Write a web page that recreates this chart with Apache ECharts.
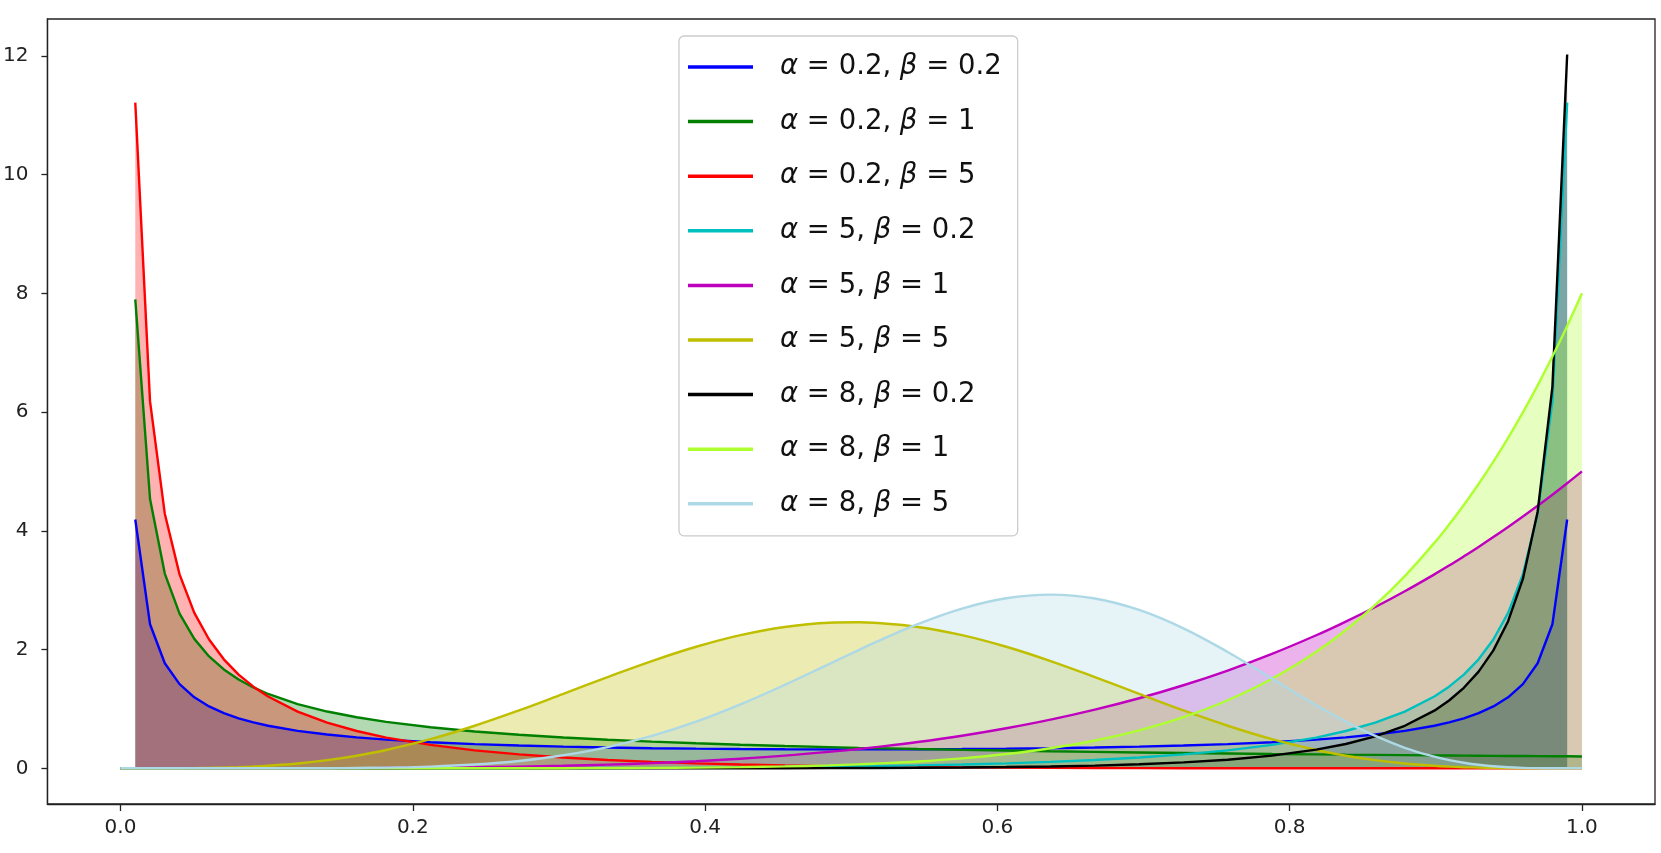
<!DOCTYPE html>
<html>
<head>
<meta charset="utf-8">
<script src="https://cdn.jsdelivr.net/npm/echarts@6/dist/echarts.min.js"></script>
<style>
  html, body { margin: 0; padding: 0; background: #fff; }
  #main { width: 1661px; height: 853px; }
</style>
</head>
<body>
<div id="main"></div>
<script>
  // sample positions along x (shared by all curves)
  var xs = [0, 0.0101, 0.0202, 0.0303, 0.0404, 0.0505, 0.0606, 0.0707, 0.0808, 0.0909,
    0.1010, 0.1212, 0.1414, 0.1616, 0.1818, 0.2121, 0.2424, 0.2727, 0.3030, 0.3333,
    0.3636, 0.3939, 0.4242, 0.4545, 0.4848, 0.5051, 0.5152, 0.5455, 0.5758, 0.6061, 0.6364,
    0.6667, 0.6970, 0.7273, 0.7576, 0.7879, 0.8182, 0.8384, 0.8586, 0.8788, 0.8990,
    0.9091, 0.9192, 0.9293, 0.9394, 0.9495, 0.9596, 0.9697, 0.9798, 0.9899, 1];

  var yA02B02 = [null, 4.190, 2.426, 1.769, 1.417, 1.196, 1.042, 0.929, 0.842, 0.773,
    0.717, 0.631, 0.569, 0.521, 0.483, 0.440, 0.408, 0.384, 0.365, 0.351,
    0.339, 0.331, 0.325, 0.321, 0.319, 0.319, 0.319, 0.321, 0.325, 0.331, 0.339,
    0.351, 0.365, 0.384, 0.408, 0.440, 0.483, 0.521, 0.569, 0.631, 0.717,
    0.773, 0.842, 0.929, 1.042, 1.196, 1.417, 1.769, 2.426, 4.190, null];

  var yA02B1 = [null, 7.898, 4.536, 3.280, 2.606, 2.180, 1.884, 1.665, 1.496, 1.362,
    1.252, 1.082, 0.956, 0.860, 0.782, 0.691, 0.621, 0.566, 0.520, 0.482,
    0.449, 0.421, 0.397, 0.376, 0.357, 0.345, 0.340, 0.325, 0.311, 0.299, 0.287,
    0.277, 0.267, 0.258, 0.250, 0.242, 0.235, 0.230, 0.226, 0.222, 0.218,
    0.216, 0.214, 0.212, 0.210, 0.208, 0.207, 0.205, 0.203, 0.202, 0.200];

  var yA02B5 = [null, 11.212, 6.180, 4.288, 3.266, 2.619, 2.169, 1.836, 1.579, 1.375,
    1.209, 0.954, 0.768, 0.628, 0.518, 0.394, 0.303, 0.234, 0.181, 0.141,
    0.109, 0.084, 0.065, 0.049, 0.037, 0.031, 0.028, 0.021, 0.015, 0.011, 0.007,
    0.005, 0.003, 0.002, 0.001, 0.001, 0, 0, 0, 0, 0,
    0, 0, 0, 0, 0, 0, 0, 0, 0, 0];

  var yA5B02 = [0, 0, 0, 0, 0, 0, 0, 0, 0, 0,
    0, 0, 0, 0, 0, 0.001, 0.001, 0.002, 0.003, 0.005,
    0.007, 0.011, 0.015, 0.021, 0.028, 0.034, 0.037, 0.049, 0.065, 0.084, 0.109,
    0.141, 0.181, 0.234, 0.303, 0.394, 0.518, 0.628, 0.768, 0.954, 1.209,
    1.375, 1.579, 1.836, 2.169, 2.619, 3.266, 4.288, 6.180, 11.212, null];

  var yA5B1 = [0, 0, 0, 0, 0, 0, 0, 0, 0, 0,
    0.001, 0.001, 0.002, 0.003, 0.005, 0.010, 0.017, 0.028, 0.042, 0.062,
    0.087, 0.120, 0.162, 0.213, 0.276, 0.325, 0.352, 0.443, 0.549, 0.675, 0.820,
    0.988, 1.180, 1.399, 1.647, 1.927, 2.241, 2.471, 2.717, 2.982, 3.266,
    3.415, 3.570, 3.729, 3.894, 4.064, 4.240, 4.421, 4.608, 4.801, 5.000];

  var yA5B5 = [0, 0, 0, 0.001, 0.001, 0.003, 0.007, 0.012, 0.019, 0.029,
    0.043, 0.081, 0.137, 0.212, 0.309, 0.491, 0.717, 0.975, 1.254, 1.536,
    1.806, 2.047, 2.243, 2.381, 2.452, 2.460, 2.452, 2.381, 2.243, 2.047, 1.806,
    1.536, 1.254, 0.975, 0.717, 0.491, 0.309, 0.212, 0.137, 0.081, 0.043,
    0.029, 0.019, 0.012, 0.007, 0.003, 0.001, 0.001, 0, 0, 0];

  var yA8B02 = [0, 0, 0, 0, 0, 0, 0, 0, 0, 0,
    0, 0, 0, 0, 0, 0, 0, 0, 0, 0,
    0, 0.001, 0.001, 0.002, 0.004, 0.005, 0.006, 0.009, 0.014, 0.021, 0.031,
    0.046, 0.068, 0.100, 0.145, 0.213, 0.314, 0.409, 0.538, 0.716, 0.971,
    1.142, 1.356, 1.629, 1.987, 2.478, 3.190, 4.321, 6.426, 12.021, null];

  var yA8B1 = [0, 0, 0, 0, 0, 0, 0, 0, 0, 0,
    0, 0, 0, 0, 0, 0, 0, 0.001, 0.002, 0.004,
    0.007, 0.012, 0.020, 0.032, 0.050, 0.067, 0.077, 0.115, 0.168, 0.240, 0.338,
    0.468, 0.639, 0.861, 1.146, 1.508, 1.964, 2.329, 2.751, 3.238, 3.797,
    4.105, 4.435, 4.788, 5.165, 5.566, 5.994, 6.450, 6.935, 7.451, 8.000];

  var yA8B5 = [0, 0, 0, 0, 0, 0, 0, 0, 0, 0,
    0, 0.001, 0.002, 0.006, 0.012, 0.029, 0.064, 0.124, 0.220, 0.358,
    0.546, 0.786, 1.077, 1.405, 1.756, 1.992, 2.107, 2.429, 2.691, 2.865, 2.926,
    2.861, 2.668, 2.358, 1.959, 1.511, 1.062, 0.787, 0.545, 0.346, 0.196,
    0.139, 0.094, 0.059, 0.035, 0.018, 0.008, 0.003, 0.001, 0, 0];

  var names = ['α = 0.2, β = 0.2', 'α = 0.2, β = 1', 'α = 0.2, β = 5',
    'α = 5, β = 0.2', 'α = 5, β = 1', 'α = 5, β = 5',
    'α = 8, β = 0.2', 'α = 8, β = 1', 'α = 8, β = 5'];
  var curves = [yA02B02, yA02B1, yA02B5, yA5B02, yA5B1, yA5B5, yA8B02, yA8B1, yA8B5];
  var colors = ['#0000ff', '#008000', '#ff0000', '#00bfbf', '#bf00bf', '#bfbf00',
    '#000000', '#adff2f', '#add8e6'];
  // gentle curves get a little smoothing, spiky ones stay straight
  var smoothing = [0, 0, 0, 0, 0.4, 0.4, 0, 0.4, 0.4];

  var xTicks = [0, 0.2, 0.4, 0.6, 0.8, 1.0];
  var yTicks = [0, 2, 4, 6, 8, 10, 12];

  var font = 'DejaVu Sans';
  var axisColor = '#222';

  function toPairs(ys) {
    var out = [];
    for (var k = 0; k < xs.length; k++) {
      if (ys[k] !== null) out.push([xs[k], ys[k]]);
    }
    return out;
  }

  var series = curves.map(function (ys, i) {
    return {
      name: names[i],
      type: 'line',
      symbol: 'none',
      smooth: smoothing[i] || false,
      color: colors[i],
      lineStyle: { color: colors[i], width: 2.4 },
      areaStyle: { color: colors[i], opacity: 0.3 },
      data: toPairs(ys)
    };
  });

  var myChart = echarts.init(document.getElementById('main'));
  myChart.setOption({
    animation: false,
    backgroundColor: '#fff',
    grid: {
      left: 45, right: 6, top: 19, bottom: 49,
      show: true, borderColor: axisColor, borderWidth: 1.3
    },
    legend: {
      orient: 'vertical',
      left: 679,
      top: 36,
      padding: [16, 16, 17, 9],
      itemGap: 24.6,
      itemWidth: 65,
      itemHeight: 3.5,
      icon: 'rect',
      borderColor: '#cccccc',
      borderWidth: 1.3,
      borderRadius: 5,
      backgroundColor: '#fff',
      data: names,
      formatter: function (name) {
        return name.replace(/([αβ])/g, '{g|$1}');
      },
      textStyle: {
        fontFamily: font,
        fontSize: 27.5,
        lineHeight: 30,
        color: '#111',
        padding: [0, 0, 0, 22],
        rich: {
          g: { fontFamily: font, fontSize: 27.5, lineHeight: 30, fontStyle: 'italic', color: '#111' }
        }
      }
    },
    xAxis: {
      type: 'value',
      min: -0.05,
      max: 1.05,
      splitLine: { show: false },
      axisLine: { show: true, onZero: false, lineStyle: { color: axisColor, width: 1.3 } },
      axisTick: { show: true, customValues: xTicks, length: 7, lineStyle: { color: axisColor, width: 1.3 } },
      axisLabel: {
        customValues: xTicks,
        margin: 14,
        fontFamily: font,
        fontSize: 20,
        color: '#222',
        formatter: function (v) { return v.toFixed(1); }
      }
    },
    yAxis: {
      type: 'value',
      min: -0.601,
      max: 12.62,
      splitLine: { show: false },
      axisLine: { show: true, onZero: false, lineStyle: { color: axisColor, width: 1.3 } },
      axisTick: { show: true, customValues: yTicks, length: 6, lineStyle: { color: axisColor, width: 1.3 } },
      axisLabel: {
        customValues: yTicks,
        margin: 19,
        fontFamily: font,
        fontSize: 20,
        color: '#222'
      }
    },
    series: series
  });
</script>
</body>
</html>
